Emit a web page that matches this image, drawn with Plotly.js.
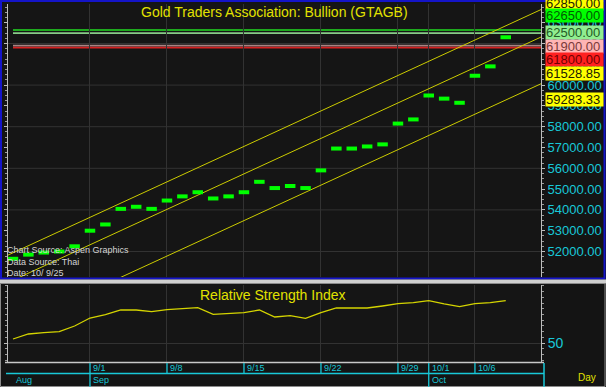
<!DOCTYPE html>
<html><head><meta charset="utf-8">
<script src="https://cdn.plot.ly/plotly-3.0.1.min.js"></script>
<style>html,body{margin:0;padding:0;background:#141414;}#chart{width:606px;height:387px;}</style>
</head><body><div id="chart"></div>
<script>
// ---------- data ----------
const dates = ['8/25','8/26','8/27','8/28','8/29','9/1','9/2','9/3','9/4','9/5','9/8','9/9','9/10','9/11','9/12','9/15','9/16','9/17','9/18','9/19','9/22','9/23','9/24','9/25','9/26','9/29','9/30','10/1','10/2','10/3','10/6','10/7','10/8'];
const prices = [51650,51850,51950,52000,52250,53000,53300,54050,54150,54050,54450,54650,54850,54550,54650,54850,55350,55050,55150,55050,55900,56950,56950,57050,57150,58150,58350,59500,59350,59150,60450,60900,62300];
const rsi = [52.8,56.3,57.3,58.0,61.9,67.5,69.9,73.1,73.1,72.0,73.4,74.1,74.7,70.1,70.6,71.2,73.1,68.2,69.1,67.3,71.3,74.5,74.5,74.5,75.9,77.5,78.3,79.6,77.4,75.5,77.6,78.3,79.6];
const levelValues = [62650, 62500, 61900, 61800];
const levelLabels = ['62650.00','62500.00','61900.00','61800.00'];
const channelStart = [51938, 50617, 48371];          // upper, middle, lower at first date
const channelEnd = [62850, 61528.85, 59283.33];      // upper, middle, lower at last date
const channelLabels = ['62850.00','61528.85','59283.33'];
const priceTicks = [52000,53000,54000,55000,56000,57000,58000,59000,60000,61000,62000,63000];
const gridPrices = [52000,54000,56000,58000,60000,62000];
const dateTicks = ['9/1','9/8','9/15','9/22','9/29','10/1','10/6'];
const monthLabels = ['Aug','Sep','Oct'];
const monthStarts = ['8/25','9/1','10/1'];
const rsiTicks = [50];

// ---------- helpers ----------
const W = 606, H = 387;
const px = v => v / W;
const py = v => 1 - v / H;
const FONT = 'Liberation Sans, Arial, sans-serif';
const CYAN = '#18c8d8', YEL = '#e2e200', GRID = '#323232';
const idx = dates.map((d, i) => i);
const xr = [-0.325, 34.29];
const yr = [50774, 63899];
const n = dates.length;

const traces = [];
// channel lines (extended across the panel)
const cx = [xr[0] - 1, xr[1] + 1];
for (let j = 0; j < 3; j++) {
  const s = (channelEnd[j] - channelStart[j]) / (n - 1);
  traces.push({x: cx, y: cx.map(x => channelStart[j] + s * x), xaxis: 'x', yaxis: 'y',
    mode: 'lines', line: {color: '#cccc00', width: 1}, hoverinfo: 'skip', showlegend: false});
}
// price dashes
traces.push({x: idx, y: prices, xaxis: 'x', yaxis: 'y', mode: 'markers', showlegend: false,
  marker: {symbol: 'line-ew', size: 7.5, color: '#00ff00', line: {color: '#00ff00', width: 4}}});
// RSI
traces.push({x: idx, y: rsi, xaxis: 'x2', yaxis: 'y2', mode: 'lines', showlegend: false,
  line: {color: '#d4d400', width: 1.3}});

const tickIdx = dateTicks.map(d => dates.indexOf(d));
const shapes = [];
// horizontal grid lines in price panel
gridPrices.forEach(v => shapes.push({type: 'line', xref: 'paper', x0: px(8), x1: px(541), yref: 'y', y0: v, y1: v,
  line: {color: GRID, width: 1}, layer: 'below'}));
// level lines
const levelColors = ['#22dd22', '#88cc88', '#a88484', '#d42020'];
levelValues.forEach((v, i) => shapes.push({type: 'line', xref: 'paper', x0: px(13), x1: px(541), yref: 'y', y0: v, y1: v,
  line: {color: levelColors[i], width: 1.6}, layer: 'below'}));
// panel frames
shapes.push({type: 'rect', xref: 'paper', yref: 'paper', x0: px(1), x1: px(604.5), y0: py(1), y1: py(278.5),
  line: {color: '#1414c8', width: 2}, layer: 'above'});
shapes.push({type: 'rect', xref: 'paper', yref: 'paper', x0: 0, x1: 1, y0: py(283.5), y1: py(279.5),
  fillcolor: '#cfcfcf', line: {width: 0}, layer: 'above'});
shapes.push({type: 'rect', xref: 'paper', yref: 'paper', x0: px(0.5), x1: px(605), y0: py(386.5), y1: py(283.5),
  line: {color: '#8a8a8a', width: 1}, layer: 'above'});
shapes.push({type: 'line', xref: 'paper', yref: 'paper', x0: px(5), x1: px(544), y0: py(362.5), y1: py(362.5),
  line: {color: '#c8c8c8', width: 1.5}, layer: 'above'});
// date axis lines
shapes.push({type: 'line', xref: 'paper', yref: 'paper', x0: px(6), x1: px(544), y0: py(373.5), y1: py(373.5),
  line: {color: CYAN, width: 1.5}, layer: 'above'});
shapes.push({type: 'line', xref: 'paper', yref: 'paper', x0: px(544), x1: px(544), y0: py(363), y1: py(387),
  line: {color: CYAN, width: 1.5}, layer: 'above'});
dateTicks.forEach(d => {
  const full = monthStarts.indexOf(d) >= 0;
  shapes.push({type: 'line', xref: 'x2', x0: dates.indexOf(d), x1: dates.indexOf(d), yref: 'paper',
    y0: py(363), y1: py(full ? 387 : 373.5), line: {color: CYAN, width: 1.3}, layer: 'above'});
});

const annotations = [];
annotations.push({text: 'Gold Traders Association: Bullion (GTAGB)', xref: 'paper', yref: 'paper', x: px(274.5), y: py(12.5),
  xanchor: 'center', yanchor: 'middle', showarrow: false, font: {family: FONT, size: 14, color: YEL}});
annotations.push({text: 'Relative Strength Index', xref: 'paper', yref: 'paper', x: px(273), y: py(295),
  xanchor: 'center', yanchor: 'middle', showarrow: false, font: {family: FONT, size: 14, color: YEL}});
['Chart Source: Aspen Graphics', 'Data Source: Thai', 'Date: 10/ 9/25'].forEach((t, i) =>
  annotations.push({text: t, xref: 'paper', yref: 'paper', x: px(5), y: py(250 + i * 11.5), xanchor: 'left', yanchor: 'middle',
    showarrow: false, font: {family: FONT, size: 9, color: '#d4d4d4'}}));
// right price labels
const labelStyle = {
  '62850.00': {bg: '#ffff00', fg: '#202000', shift: 22.8},
  '62650.00': {bg: '#00ff00', fg: '#005a00', shift: 14},
  '62500.00': {bg: '#90ee90', fg: '#245a24', shift: 0.8},
  '61900.00': {bg: '#ffb4b4', fg: '#7a3a3a', shift: -1.1},
  '61800.00': {bg: '#ff2020', fg: '#700000', shift: -12.3},
  '61528.85': {bg: '#ffff00', fg: '#202000', shift: -20},
  '59283.33': {bg: '#ffff00', fg: '#202000', shift: 0.9}
};
const allLabels = [[channelEnd[0], channelLabels[0]]]
  .concat(levelValues.map((v, i) => [v, levelLabels[i]]))
  .concat([[channelEnd[1], channelLabels[1]], [channelEnd[2], channelLabels[2]]]);
allLabels.forEach(([v, t]) => {
  const st = labelStyle[t];
  annotations.push({text: t, xref: 'paper', yref: 'y', x: px(545), y: v, yshift: st.shift, xanchor: 'left', yanchor: 'middle',
    showarrow: false, bgcolor: st.bg, width: 57, height: 13, align: 'left', borderpad: 0,
    font: {family: FONT, size: 13, color: st.fg}});
});
// date labels
dateTicks.forEach(d => annotations.push({text: d, xref: 'x2', x: dates.indexOf(d), xshift: 1, yref: 'paper', y: py(368),
  xanchor: 'left', yanchor: 'middle', showarrow: false, font: {family: FONT, size: 9, color: CYAN}}));
monthLabels.forEach((m, i) => annotations.push({text: m, xref: 'x2', x: dates.indexOf(monthStarts[i]), xshift: 1, yref: 'paper', y: py(380),
  xanchor: 'left', yanchor: 'middle', showarrow: false, font: {family: FONT, size: 9, color: CYAN}}));
annotations.push({text: 'Day', xref: 'paper', yref: 'paper', x: px(587), y: py(377.5), xanchor: 'center', yanchor: 'middle',
  showarrow: false, font: {family: FONT, size: 10, color: YEL}});

const layout = {
  width: W, height: H, margin: {l: 0, r: 0, t: 0, b: 0},
  paper_bgcolor: '#141414', plot_bgcolor: '#151515', showlegend: false,
  xaxis: {domain: [px(8), px(541)], range: xr, anchor: 'y', tickmode: 'array', tickvals: tickIdx,
    showticklabels: false, ticks: '', showgrid: true, gridcolor: GRID, zeroline: false, showline: false},
  yaxis: {domain: [py(277), py(4)], range: yr, side: 'right', anchor: 'x', tickmode: 'array', tickvals: priceTicks,
    ticktext: priceTicks.map(v => v.toFixed(2)), tickfont: {family: FONT, size: 13, color: CYAN},
    ticks: 'outside', ticklen: 3, tickcolor: '#bdbdbd', showgrid: false, zeroline: false,
    showline: true, linecolor: '#bdbdbd', linewidth: 1, mirror: 'ticks',
    minor: {tickmode: 'linear', tick0: 50000, dtick: 250, ticks: 'outside', ticklen: 2, tickcolor: '#9a9a9a'}},
  xaxis2: {domain: [px(8), px(541)], range: xr, anchor: 'y2', tickmode: 'array', tickvals: tickIdx,
    showticklabels: false, ticks: '', showgrid: true, gridcolor: GRID, zeroline: false, showline: false},
  yaxis2: {domain: [py(362), py(285)], range: [36.7, 90.6], side: 'right', anchor: 'x2', tickmode: 'array', tickvals: rsiTicks,
    ticktext: rsiTicks.map(String), tickfont: {family: FONT, size: 14, color: CYAN},
    ticks: 'outside', ticklen: 3, tickcolor: '#bdbdbd', showgrid: true, gridcolor: GRID, zeroline: false,
    showline: true, linecolor: '#bdbdbd', mirror: 'ticks',
    minor: {tickmode: 'linear', tick0: 30, dtick: 4, ticks: 'outside', ticklen: 2, tickcolor: '#9a9a9a'}},
  shapes: shapes, annotations: annotations
};
Plotly.newPlot('chart', traces, layout, {staticPlot: true, displayModeBar: false});
</script></body></html>
